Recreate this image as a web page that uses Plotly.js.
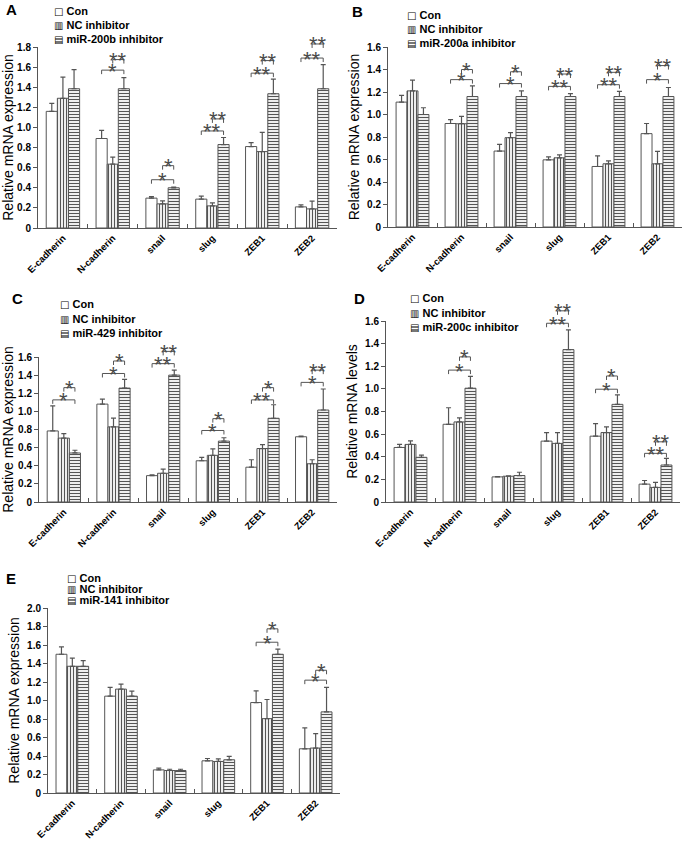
<!DOCTYPE html>
<html><head><meta charset="utf-8">
<script src="https://cdn.plot.ly/plotly-3.0.1.min.js"></script>
<style>html,body{margin:0;padding:0;background:#fff}#chart{width:683px;height:841px}</style>
</head><body><div id="chart"></div>
<script>
// ---------------- DATA ----------------
const genes = ['E-cadherin','N-cadherin','snail','slug','ZEB1','ZEB2'];
const conName = 'Con';
const ncName = 'NC inhibitor';
const inhibitorNames = ['miR-200b inhibitor','miR-200a inhibitor','miR-429 inhibitor','miR-200c inhibitor','miR-141 inhibitor'];
const panelLetters = ['A','B','C','D','E'];
const yTitles = ['Relative mRNA expression','Relative mRNA expression','Relative mRNA expression','Relative mRNA levels','Relative mRNA expression'];

const ticks16 = ['0','0.2','0.4','0.6','0.8','1.0','1.2','1.4','1.6'];
const ticks18 = ['0','0.2','0.4','0.6','0.8','1.0','1.2','1.4','1.6','1.8'];
const ticks20 = ['0','0.2','0.4','0.6','0.8','1.0','1.2','1.4','1.6','1.8','2.0'];

// Panel A (miR-200b)
const conA    = [1.16, 0.89, 0.297, 0.287, 0.81, 0.21];
const conErrA = [0.08, 0.08, 0.015, 0.03, 0.04, 0.02];
const ncA     = [1.29, 0.635, 0.24, 0.22, 0.76, 0.19];
const ncErrA  = [0.21, 0.07, 0.03, 0.03, 0.19, 0.077];
const miA     = [1.385, 1.385, 0.40, 0.83, 1.335, 1.385];
const miErrA  = [0.19, 0.11, 0.006, 0.07, 0.145, 0.24];
const sigA = [[1,0,1.57,'*'],[1,1,1.675,'**'],[2,0,0.48,'*'],[2,1,0.62,'*'],[3,0,0.965,'**'],[3,1,1.085,'**'],[4,0,1.54,'**'],[4,1,1.665,'**'],[5,0,1.69,'**'],[5,1,1.83,'**']];

// Panel B (miR-200a)
const conB    = [1.11, 0.92, 0.675, 0.597, 0.538, 0.83];
const conErrB = [0.06, 0.035, 0.06, 0.027, 0.095, 0.09];
const ncB     = [1.21, 0.918, 0.794, 0.615, 0.562, 0.562];
const ncErrB  = [0.095, 0.065, 0.045, 0.026, 0.026, 0.11];
const miB     = [1.0, 1.16, 1.16, 1.16, 1.16, 1.16];
const miErrB  = [0.06, 0.095, 0.05, 0.025, 0.045, 0.08];
const sigB = [[1,0,1.31,'*'],[1,1,1.40,'*'],[2,0,1.275,'*'],[2,1,1.38,'*'],[3,0,1.25,'**'],[3,1,1.36,'**'],[4,0,1.265,'**'],[4,1,1.375,'**'],[5,0,1.31,'*'],[5,1,1.435,'**']];

// Panel C (miR-429)
const conC    = [0.784, 1.08, 0.291, 0.455, 0.384, 0.72];
const conErrC = [0.276, 0.055, 0.008, 0.038, 0.082, 0.007];
const ncC     = [0.705, 0.829, 0.317, 0.515, 0.59, 0.422];
const ncErrC  = [0.049, 0.096, 0.045, 0.071, 0.044, 0.044];
const miC     = [0.541, 1.257, 1.40, 0.672, 0.924, 1.015];
const miErrC  = [0.03, 0.096, 0.055, 0.037, 0.149, 0.232];
const sigC = [[0,0,1.127,'*'],[0,1,1.262,'*'],[1,0,1.418,'*'],[1,1,1.556,'*'],[2,0,1.527,'**'],[2,1,1.662,'**'],[3,0,0.789,'*'],[3,1,0.92,'*'],[4,0,1.127,'**'],[4,1,1.262,'*'],[5,0,1.32,'*'],[5,1,1.455,'**']];

// Panel D (miR-200c)
const conD    = [0.482, 0.687, 0.222, 0.538, 0.582, 0.158];
const conErrD = [0.027, 0.146, 0.003, 0.076, 0.111, 0.032];
const ncD     = [0.509, 0.708, 0.228, 0.518, 0.614, 0.129];
const ncErrD  = [0.032, 0.035, 0.004, 0.096, 0.05, 0.044];
const miD     = [0.395, 1.006, 0.234, 1.347, 0.863, 0.327];
const miErrD  = [0.02, 0.104, 0.029, 0.175, 0.084, 0.059];
const sigD = [[1,0,1.166,'*'],[1,1,1.283,'*'],[3,0,1.58,'**'],[3,1,1.69,'**'],[4,0,0.997,'*'],[4,1,1.114,'*'],[5,0,0.43,'**'],[5,1,0.532,'**']];

// Panel E (miR-141)
const conE    = [1.50, 1.047, 0.25, 0.348, 0.978, 0.478];
const conErrE = [0.08, 0.094, 0.018, 0.025, 0.127, 0.225];
const ncE     = [1.37, 1.123, 0.243, 0.341, 0.804, 0.486];
const ncErrE  = [0.088, 0.055, 0.014, 0.029, 0.207, 0.155];
const miE     = [1.37, 1.047, 0.243, 0.359, 1.50, 0.877];
const miErrE  = [0.06, 0.054, 0.014, 0.036, 0.056, 0.264];
const sigE = [[4,0,1.63,'*'],[4,1,1.775,'*'],[5,0,1.22,'*'],[5,1,1.327,'*']];

// ---------------- LAYOUT / STYLE ----------------
const W = 683, H = 841;
const BARGAP = 0.33;
const LINE = '#555';
const FONT = 'Liberation Sans, Arial, sans-serif';

const panels = [
  {con:conA, conErr:conErrA, nc:ncA, ncErr:ncErrA, mi:miA, miErr:miErrA, sig:sigA, ticks:ticks18,
   px0:38, px1:337, pyTop:47, pyBot:228, letter:[11,10], leg:[52,11,14]},
  {con:conB, conErr:conErrB, nc:ncB, ncErr:ncErrB, mi:miB, miErr:miErrB, sig:sigB, ticks:ticks16,
   px0:388, px1:682, pyTop:47, pyBot:227, letter:[357,11], leg:[405,15,14]},
  {con:conC, conErr:conErrC, nc:ncC, ncErr:ncErrC, mi:miC, miErr:miErrC, sig:sigC, ticks:ticks16,
   px0:39, px1:337, pyTop:357, pyBot:502, letter:[17,298], leg:[58,304,14.5]},
  {con:conD, conErr:conErrD, nc:ncD, ncErr:ncErrD, mi:miD, miErr:miErrD, sig:sigD, ticks:ticks16,
   px0:386, px1:680, pyTop:321, pyBot:502, letter:[359,298], leg:[408,298,14.5]},
  {con:conE, conErr:conErrE, nc:ncE, ncErr:ncErrE, mi:miE, miErr:miErrE, sig:sigE, ticks:ticks20,
   px0:48, px1:340, pyTop:608, pyBot:793, letter:[11,578], leg:[65,578,11]}
];

const data = [];
const layout = {
  width: W, height: H,
  margin: {l:0, r:0, t:0, b:0},
  paper_bgcolor: '#fff', plot_bgcolor: 'rgba(0,0,0,0)',
  barmode: 'group', bargap: BARGAP, bargroupgap: 0,
  showlegend: false,
  font: {family: FONT, color: '#000'},
  shapes: [], annotations: []
};

const zeros = a => a.map(() => 0);
const errStyle = (arr) => ({type:'data', symmetric:false, array:arr, arrayminus:zeros(arr), color:LINE, thickness:1.2, width:2.5});
const w = (1 - BARGAP) / 3;
const offsets = [-w, 0, w];

panels.forEach((p, i) => {
  const n = i + 1;
  const xa = n === 1 ? 'x' : 'x' + n;
  const ya = n === 1 ? 'y' : 'y' + n;
  const xk = n === 1 ? 'xaxis' : 'xaxis' + n;
  const yk = n === 1 ? 'yaxis' : 'yaxis' + n;
  const tickvals = p.ticks.map(Number);
  const ymax = tickvals[tickvals.length - 1];

  data.push({type:'bar', name:conName, x:genes, y:p.con, xaxis:xa, yaxis:ya,
    marker:{color:'#fff', line:{color:LINE, width:1}}, error_y:errStyle(p.conErr)});
  data.push({type:'bar', name:ncName, x:genes, y:p.nc, xaxis:xa, yaxis:ya,
    marker:{color:'#fff', line:{color:LINE, width:1},
      pattern:{shape:'|', fgcolor:'#555', bgcolor:'#fff', size:3, solidity:0.4}},
    error_y:errStyle(p.ncErr)});
  data.push({type:'bar', name:inhibitorNames[i], x:genes, y:p.mi, xaxis:xa, yaxis:ya,
    marker:{color:'#fff', line:{color:LINE, width:1},
      pattern:{shape:'-', fgcolor:'#555', bgcolor:'#fff', size:3, solidity:0.4}},
    error_y:errStyle(p.miErr)});

  layout[xk] = {
    domain:[p.px0 / W, p.px1 / W], anchor: ya, type:'category', range:[-0.5, 5.5],
    showline:true, linecolor:LINE, linewidth:1, showgrid:false, zeroline:false,
    ticks:'inside', tickson:'boundaries', ticklen:4, tickcolor:LINE,
    tickangle:-45, tickfont:{family:FONT, size:9.5, color:'#000', weight:'bold'}
  };
  layout[yk] = {
    domain:[1 - p.pyBot / H, 1 - p.pyTop / H], anchor: xa, range:[0, ymax],
    showline:true, linecolor:LINE, linewidth:1, showgrid:false, zeroline:false,
    ticks:'outside', ticklen:4, tickcolor:LINE,
    tickvals: tickvals, ticktext: p.ticks,
    tickfont:{family:FONT, size:10, color:'#000', weight:'bold'},
    title:{text: yTitles[i], font:{family:FONT, size:14, color:'#000'}, standoff:4}
  };

  // panel letter
  layout.annotations.push({xref:'paper', yref:'paper', x:p.letter[0] / W, y:1 - p.letter[1] / H,
    xanchor:'center', yanchor:'middle', showarrow:false, text:'<b>' + panelLetters[i] + '</b>',
    font:{family:FONT, size:15, color:'#000'}});

  // legend (glyph + label)
  const glyphs = ['\u25A1', '\u25A5', '\u25A4'];
  const names = [conName, ncName, inhibitorNames[i]];
  names.forEach((nm, k) => {
    layout.annotations.push({xref:'paper', yref:'paper', x:p.leg[0] / W, y:1 - (p.leg[1] + k * p.leg[2]) / H,
      xanchor:'left', yanchor:'middle', showarrow:false,
      text:'<span style="font-family:DejaVu Sans;font-size:10px;font-weight:normal">' + glyphs[k] + '</span> <b>' + nm + '</b>',
      font:{family:FONT, size:11, color:'#000'}});
  });

  // significance brackets
  const plotH = p.pyBot - p.pyTop;
  const dx = v => (v + 0.5) / 6;
  const tk = 4 / plotH;
  p.sig.forEach(s => {
    const [g, from, level, label] = s;
    const xs = dx(g + offsets[from]);
    const xe = dx(g + offsets[2]);
    const yd = level / ymax;
    const base = {type:'line', xref: xa + ' domain', yref: ya + ' domain', line:{color:LINE, width:1}};
    layout.shapes.push(Object.assign({}, base, {x0:xs, x1:xe, y0:yd, y1:yd}));
    layout.shapes.push(Object.assign({}, base, {x0:xs, x1:xs, y0:yd - tk, y1:yd}));
    layout.shapes.push(Object.assign({}, base, {x0:xe, x1:xe, y0:yd - tk, y1:yd}));
    layout.annotations.push({xref: xa + ' domain', yref: ya + ' domain', x:(xs + xe) / 2, y:yd,
      xanchor:'center', yanchor:'middle', yshift:-1, showarrow:false, text:label,
      font:{family:FONT, size:22, color:'#4a4a4a'}});
  });
});

Plotly.newPlot('chart', data, layout, {displayModeBar:false, staticPlot:true});
</script>
</body></html>
